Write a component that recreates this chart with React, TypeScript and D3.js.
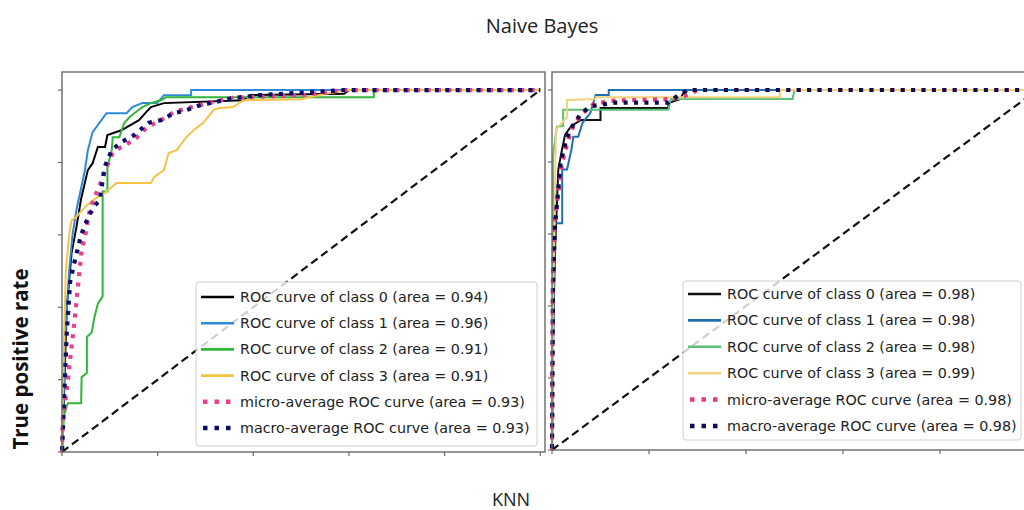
import React from "react";
import * as d3 from "d3";

type Pt = [number, number];

const titleTop = "Naive Bayes";
const titleBottom = "KNN";
const yAxisLabel = "True positive rate";

const tickValues = [0, 0.2, 0.4, 0.6, 0.8, 1.0];

// Naive Bayes ROC curves (fpr, tpr)
const nbClass0: Pt[] = [[0,0],[0.004,0.15],[0.01,0.4],[0.02,0.55],[0.03,0.62],[0.04,0.7],[0.054,0.779],[0.064,0.798],[0.075,0.843],[0.09,0.843],[0.095,0.876],[0.124,0.889],[0.161,0.917],[0.176,0.939],[0.186,0.953],[0.213,0.964],[0.379,0.972],[0.393,0.986],[0.59,0.99],[0.6,1],[1,1]];
const nbClass1: Pt[] = [[0,0],[0.006,0.3],[0.015,0.5],[0.022,0.6],[0.03,0.668],[0.048,0.779],[0.054,0.834],[0.064,0.884],[0.093,0.936],[0.135,0.936],[0.147,0.953],[0.168,0.964],[0.199,0.964],[0.213,0.986],[0.27,0.986],[0.27,1],[1,1]];
const nbClass2: Pt[] = [[0,0],[0.004,0.1],[0.012,0.135],[0.04,0.135],[0.041,0.207],[0.052,0.218],[0.052,0.318],[0.062,0.33],[0.068,0.373],[0.075,0.41],[0.085,0.43],[0.085,0.72],[0.095,0.72],[0.095,0.787],[0.104,0.834],[0.106,0.87],[0.12,0.87],[0.13,0.909],[0.141,0.925],[0.151,0.936],[0.168,0.953],[0.186,0.964],[0.207,0.972],[0.217,0.98],[0.652,0.98],[0.652,1],[1,1]];
const nbClass3: Pt[] = [[0,0],[0.004,0.3],[0.008,0.5],[0.015,0.6],[0.02,0.64],[0.03,0.65],[0.05,0.68],[0.07,0.7],[0.089,0.715],[0.114,0.743],[0.186,0.743],[0.193,0.76],[0.213,0.779],[0.223,0.826],[0.24,0.834],[0.26,0.87],[0.275,0.889],[0.295,0.909],[0.317,0.945],[0.327,0.95],[0.358,0.953],[0.379,0.972],[0.5,0.975],[0.55,0.99],[0.6,1],[1,1]];
const nbMicro: Pt[] = [[0,0],[0.002,0.097],[0.01,0.171],[0.017,0.254],[0.027,0.373],[0.041,0.558],[0.048,0.594],[0.058,0.668],[0.068,0.704],[0.083,0.751],[0.093,0.787],[0.106,0.826],[0.124,0.843],[0.151,0.862],[0.178,0.898],[0.207,0.917],[0.234,0.939],[0.261,0.95],[0.29,0.959],[0.317,0.967],[0.352,0.978],[0.385,0.98],[0.503,0.986],[0.59,1],[1,1]];
const nbMacro: Pt[] = [[0,0],[0.003,0.1],[0.006,0.2],[0.01,0.33],[0.017,0.47],[0.027,0.53],[0.04,0.6],[0.055,0.65],[0.068,0.68],[0.079,0.696],[0.089,0.787],[0.104,0.834],[0.124,0.856],[0.15,0.875],[0.182,0.91],[0.207,0.917],[0.234,0.936],[0.261,0.945],[0.29,0.959],[0.32,0.967],[0.358,0.978],[0.414,0.986],[0.59,1],[1,1]];

// KNN ROC curves (fpr, tpr)
const knnClass0: Pt[] = [[0,0],[0.002,0.3],[0.006,0.55],[0.013,0.779],[0.02,0.83],[0.027,0.876],[0.04,0.9],[0.06,0.917],[0.1,0.917],[0.1,0.95],[0.24,0.95],[0.24,0.964],[0.265,0.975],[0.27,0.99],[0.28,1],[1,1]];
const knnClass1: Pt[] = [[0,0],[0.004,0.5],[0.006,0.63],[0.021,0.63],[0.021,0.779],[0.031,0.779],[0.04,0.834],[0.044,0.87],[0.054,0.87],[0.063,0.909],[0.079,0.936],[0.09,0.986],[0.117,0.986],[0.117,1],[1,1]];
const knnClass2: Pt[] = [[0,0],[0.002,0.3],[0.002,0.815],[0.01,0.898],[0.023,0.9],[0.023,0.945],[0.24,0.945],[0.245,0.975],[0.496,0.975],[0.5,1],[1,1]];
const knnClass3: Pt[] = [[0,0],[0.002,0.4],[0.006,0.69],[0.008,0.89],[0.031,0.925],[0.031,0.972],[0.09,0.975],[0.09,0.98],[0.47,0.98],[0.47,1],[1,1]];
const knnMicro: Pt[] = [[0,0],[0.002,0.5],[0.006,0.64],[0.021,0.8],[0.033,0.86],[0.044,0.9],[0.063,0.936],[0.085,0.96],[0.12,0.97],[0.25,0.975],[0.277,0.985],[0.3,1],[1,1]];
const knnMacro: Pt[] = [[0,0],[0.002,0.45],[0.006,0.62],[0.018,0.8],[0.03,0.865],[0.042,0.9],[0.06,0.935],[0.08,0.955],[0.13,0.965],[0.24,0.965],[0.26,0.985],[0.28,1],[1,1]];

const diagonal: Pt[] = [[0,0],[1,1]];

const nbLabels = [
  "ROC curve of class 0 (area = 0.94)",
  "ROC curve of class 1 (area = 0.96)",
  "ROC curve of class 2 (area = 0.91)",
  "ROC curve of class 3 (area = 0.91)",
  "micro-average ROC curve (area = 0.93)",
  "macro-average ROC curve (area = 0.93)",
];
const knnLabels = [
  "ROC curve of class 0 (area = 0.98)",
  "ROC curve of class 1 (area = 0.98)",
  "ROC curve of class 2 (area = 0.98)",
  "ROC curve of class 3 (area = 0.99)",
  "micro-average ROC curve (area = 0.98)",
  "macro-average ROC curve (area = 0.98)",
];

const nbColors = ["#000000", "#2e8ad6", "#33b53a", "#f4c445", "#e8408f", "#0d0d6b"];
const knnColors = ["#111111", "#1f6fb2", "#5cc07a", "#f2d27c", "#e03c7e", "#0d0d50"];

interface PanelProps {
  x0: number; x1: number; y0: number; y1: number; xMax: number;
  series: Pt[][]; labels: string[]; colors: string[];
  legend: { x: number; y: number; w: number; h: number; row0: number; rowStep: number };
}

function Panel({ x0, x1, y0, y1, xMax, series, labels, colors, legend }: PanelProps) {
  const xs = d3.scaleLinear().domain([0, xMax]).range([x0, x1]);
  const ys = d3.scaleLinear().domain([0, 1.05]).range([y0, y1]);
  const line = d3.line<Pt>().x((d) => xs(d[0])).y((d) => ys(d[1]));
  const frame = "#6a6a6a";
  return (
    <g>
      <rect x={x0} y={y1} width={x1 - x0} height={y0 - y1} fill="#fff" />
      {series.slice(0, 4).map((s, i) => (
        <path key={i} d={line(s) || ""} fill="none" stroke={colors[i]} strokeWidth={2} />
      ))}
      <path d={line(series[4]) || ""} fill="none" stroke={colors[4]} strokeWidth={4.2} strokeDasharray="4 6.4" />
      <path d={line(series[5]) || ""} fill="none" stroke={colors[5]} strokeWidth={4.2} strokeDasharray="4 6.4" strokeDashoffset={-2} />
      <path d={line(diagonal) || ""} fill="none" stroke="#111" strokeWidth={2.2} strokeDasharray="8 4.5" />
      {/* legend */}
      <rect x={legend.x} y={legend.y} width={legend.w} height={legend.h} rx={3} fill="#fff" fillOpacity={0.8} stroke="#d0d0d0" strokeWidth={1} />
      {labels.map((lab, i) => {
        const cy = legend.row0 + i * legend.rowStep;
        const hx = legend.x + 5;
        return (
          <g key={i}>
            {i < 4 ? (
              <line x1={hx} x2={hx + 33} y1={cy} y2={cy} stroke={colors[i]} strokeWidth={2.6} />
            ) : (
              <line x1={hx} x2={hx + 33} y1={cy} y2={cy} stroke={colors[i]} strokeWidth={4.5} strokeDasharray="4.5 7" strokeDashoffset={-2} />
            )}
            <text x={legend.x + 44} y={cy} dy="0.35em" fontFamily="DejaVu Sans" fontSize={14.3} fill="#222">{lab}</text>
          </g>
        );
      })}
      {/* frame */}
      <rect x={x0} y={y1} width={x1 - x0} height={y0 - y1} fill="none" stroke={frame} strokeWidth={1.4} />
      {tickValues.map((t) => (
        <line key={"y" + t} x1={x0 - 4} x2={x0} y1={ys(t)} y2={ys(t)} stroke={frame} strokeWidth={1.2} />
      ))}
      {tickValues.map((t) => (
        <line key={"x" + t} x1={xs(t)} x2={xs(t)} y1={y0} y2={y0 + 4} stroke={frame} strokeWidth={1.2} />
      ))}
    </g>
  );
}

export default function App() {
  return (
    <svg width={1024} height={510} style={{ position: "absolute", left: 0, top: 0 }}>
      <rect width={1024} height={510} fill="#fff" />
      <Panel
        x0={62} x1={545} y0={452} y1={72} xMax={1.01}
        series={[nbClass0, nbClass1, nbClass2, nbClass3, nbMicro, nbMacro]}
        labels={nbLabels} colors={nbColors}
        legend={{ x: 196, y: 282, w: 341, h: 164, row0: 297, rowStep: 26.2 }}
      />
      <Panel
        x0={552} x1={1037} y0={450} y1={72} xMax={1.0}
        series={[knnClass0, knnClass1, knnClass2, knnClass3, knnMicro, knnMacro]}
        labels={knnLabels} colors={knnColors}
        legend={{ x: 683, y: 281, w: 338, h: 159, row0: 294, rowStep: 26.4 }}
      />
      <text x={542} y={33} textAnchor="middle" fontFamily="Open Sans" fontSize={20} fill="#222">{titleTop}</text>
      <text x={511} y={506} textAnchor="middle" fontFamily="Open Sans" fontSize={18} fill="#222">{titleBottom}</text>
      <text transform="translate(28,359) rotate(-90)" textAnchor="middle" fontFamily="Open Sans" fontWeight="bold" fontSize={20.5} fill="#111">{yAxisLabel}</text>
    </svg>
  );
}
